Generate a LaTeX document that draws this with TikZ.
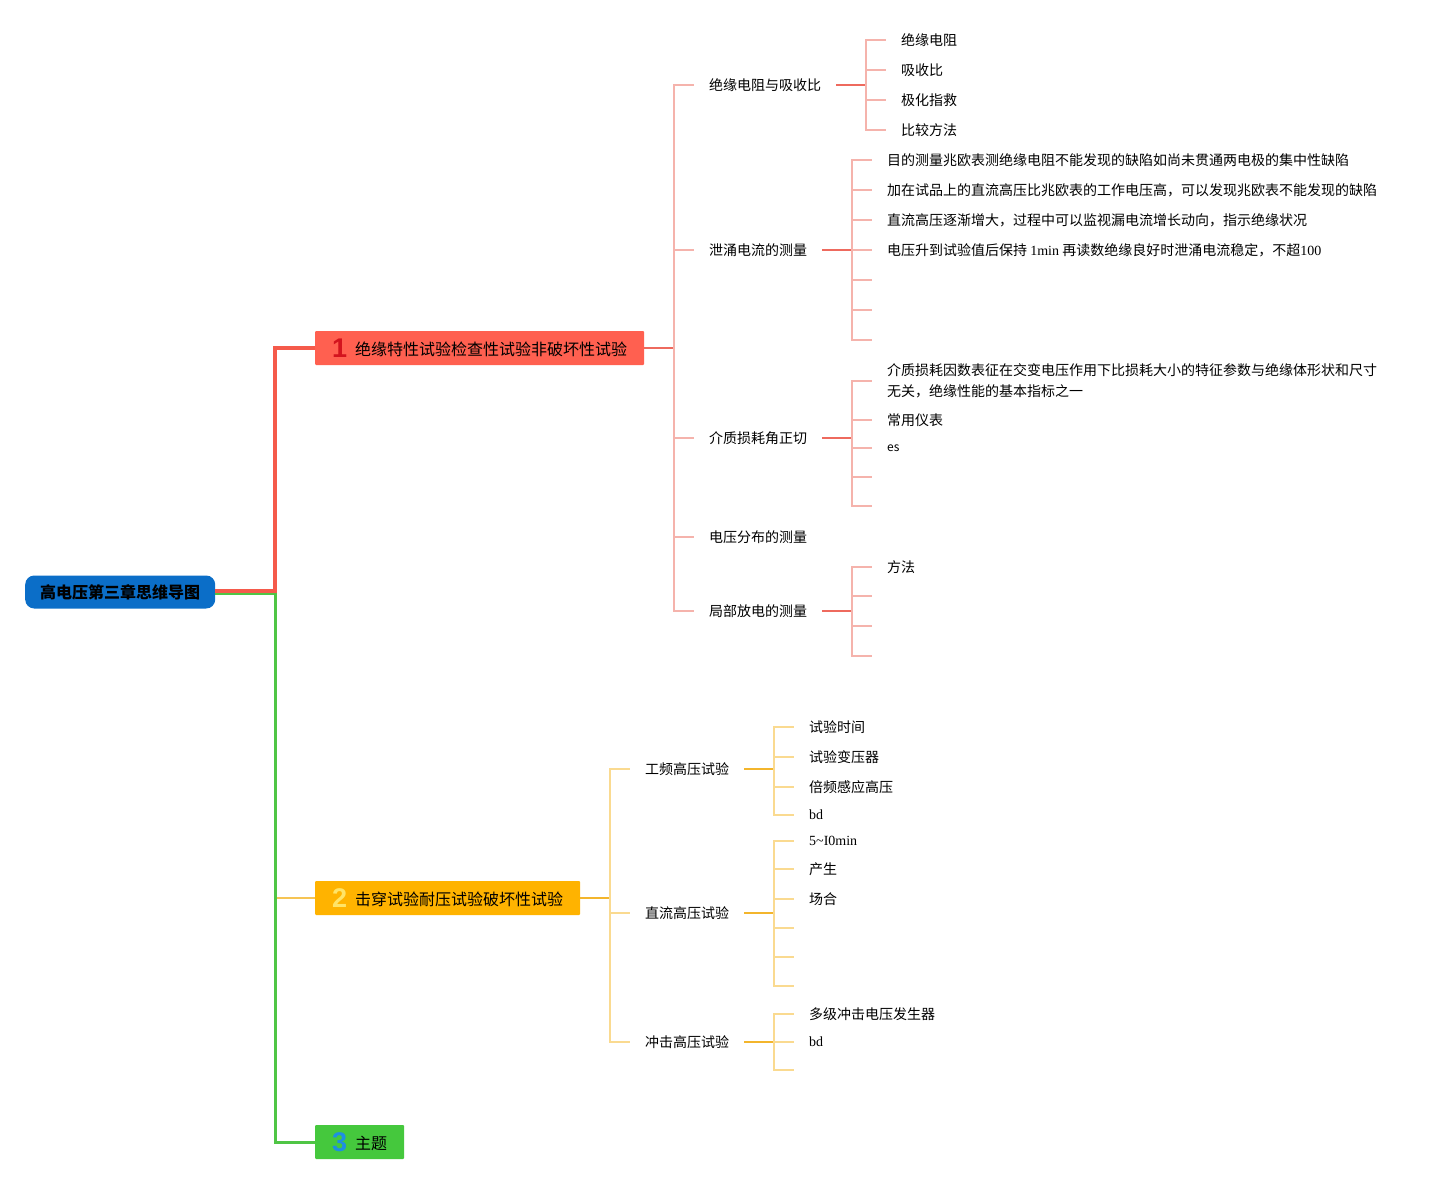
\documentclass[tikz,border=0pt]{standalone}
\usepackage{fontspec}
\setmainfont{Noto Sans CJK SC}
\newfontfamily\latserif{Liberation Serif}
\newfontfamily\numfont{Liberation Sans}
\usetikzlibrary{positioning,calc}

\definecolor{rootblue}{HTML}{0B6EC8}
\definecolor{boxred}{HTML}{FF6050}
\definecolor{boxyellow}{HTML}{FFB300}
\definecolor{boxgreen}{HTML}{45C83D}
\definecolor{numred}{HTML}{D3141E}
\definecolor{numyellow}{HTML}{FFE468}
\definecolor{numblue}{HTML}{1E8FE2}
\definecolor{trunkred}{HTML}{F55A4B}
\definecolor{trunkgreen}{HTML}{4FC545}
\definecolor{linered}{HTML}{EE6A5E}
\definecolor{linepink}{HTML}{F5B3AC}
\definecolor{lineyellow}{HTML}{F3B52C}
\definecolor{paleyellow}{HTML}{FADA90}

\newcommand{\lat}[1]{{\latserif #1}}
\newcommand{\bignum}[2]{\raisebox{-1.5pt}{\numfont\bfseries\fontsize{27}{27}\selectfont\color{#1}#2}\hspace{8pt}}

\begin{document}
\begin{tikzpicture}[
    x=1pt, y=-1pt,
    every node/.style={font=\fontsize{14}{21}\selectfont},
    rootbox/.style={fill=rootblue, rounded corners=9pt, minimum width=190pt, minimum height=33pt, inner sep=0pt, anchor=west, font=\fontsize{16}{16}\selectfont\bfseries},
    mainbox/.style={fill=#1, rounded corners=1pt, minimum height=34pt, inner sep=0pt, anchor=west, font=\fontsize{16}{16}\selectfont},
    topic/.style={anchor=west, inner xsep=15pt, inner ysep=0pt},
    leaf/.style={anchor=west, inner xsep=15pt, inner ysep=0pt, align=left},
    conn1/.style={draw=linered, line width=2pt},
    twig1/.style={draw=linepink, line width=2pt},
    conn2/.style={draw=lineyellow, line width=2pt},
    twig2/.style={draw=paleyellow, line width=2pt}
]
\useasboundingbox (0,0) rectangle (1447,1185);

% Root and the three main branches
\node[rootbox] (root) at (25,592) {高电压第三章思维导图};
\node[mainbox=boxred, minimum width=329pt] (b1) at (315,348) {\bignum{numred}{1}绝缘特性试验检查性试验非破坏性试验};
\node[mainbox=boxyellow, minimum width=265pt] (b2) at (315,898) {\bignum{numyellow}{2}击穿试验耐压试验破坏性试验};
\node[mainbox=boxgreen, minimum width=89pt] (b3) at (315,1142) {\bignum{numblue}{3}主题};

\draw[draw=paleyellow!40!lineyellow, line width=2pt] ([xshift=-40pt]b2.west) -- (b2.west);
\draw[draw=trunkgreen, line width=3pt] ([yshift=-1.5pt]root.east) -| ([xshift=-40pt]b3.west) -- (b3.west);
\draw[draw=trunkred, line width=4pt] ([yshift=1.5pt]root.east) -| ([xshift=-40pt]b1.west) -- (b1.west);

% Branch 1: non-destructive tests
\draw[conn1] (b1.east) -- ++(30,0) coordinate (b1s);
\node[topic] (c1) at (694,85) {绝缘电阻与吸收比};
\node[topic] (c2) at (694,250) {泄涌电流的测量};
\node[topic] (c3) at (694,438) {介质损耗角正切};
\node[topic] (c4) at (694,537) {电压分布的测量};
\node[topic] (c5) at (694,611) {局部放电的测量};
\foreach \c in {c1,c2,c3,c4,c5}
    \draw[twig1] (b1s) |- (\c.west);

% insulation resistance
\draw[conn1] (c1.east) -- ++(30,0) coordinate (c1s);
\node[leaf] (c1a) at (886,40) {绝缘电阻};
\node[leaf] (c1b) at (886,70) {吸收比};
\node[leaf] (c1c) at (886,100) {极化指救};
\node[leaf] (c1d) at (886,130) {比较方法};
\foreach \c in {c1a,c1b,c1c,c1d}
    \draw[twig1] (c1s) |- (\c.west);

% leakage current
\draw[conn1] (c2.east) -- ++(30,0) coordinate (c2s);
\node[leaf] (c2a) at (872,160) {目的测量兆欧表测绝缘电阻不能发现的缺陷如尚未贯通两电极的集中性缺陷};
\node[leaf] (c2b) at (872,190) {加在试品上的直流高压比兆欧表的工作电压高，可以发现兆欧表不能发现的缺陷};
\node[leaf] (c2c) at (872,220) {直流高压逐渐增大，过程中可以监视漏电流增长动向，指示绝缘状况};
\node[leaf] (c2d) at (872,250) {电压升到试验值后保持 \lat{1min} 再读数绝缘良好时泄涌电流稳定，不超\lat{100}};
\coordinate (c2e) at (872,280);
\coordinate (c2f) at (872,310);
\coordinate (c2g) at (872,340);
\foreach \c in {c2a.west,c2b.west,c2c.west,c2d.west,c2e,c2f,c2g}
    \draw[twig1] (c2s) |- (\c);

% dielectric loss
\draw[conn1] (c3.east) -- ++(30,0) coordinate (c3s);
\node[leaf] (c3a) at (872,380.5) {介质损耗因数表征在交变电压作用下比损耗大小的特征参数与绝缘体形状和尺寸\\无关，绝缘性能的基本指标之一};
\node[leaf] (c3b) at (872,420) {常用仪表};
\node[leaf, font=\fontsize{12}{12}\selectfont] (c3c) at (872,448) {es};
\coordinate (c3d) at (872,477);
\coordinate (c3e) at (872,506);
\foreach \c in {c3a.west,c3b.west,c3c.west,c3d,c3e}
    \draw[twig1] (c3s) |- (\c);

% partial discharge
\draw[conn1] (c5.east) -- ++(30,0) coordinate (c5s);
\node[leaf] (c5a) at (872,567) {方法};
\coordinate (c5b) at (872,596);
\coordinate (c5c) at (872,626);
\coordinate (c5d) at (872,656);
\foreach \c in {c5a.west,c5b,c5c,c5d}
    \draw[twig1] (c5s) |- (\c);

% Branch 2: destructive tests
\draw[conn2] (b2.east) -- ++(30,0) coordinate (b2s);
\node[topic] (d1) at (630,769) {工频高压试验};
\node[topic] (d2) at (630,913) {直流高压试验};
\node[topic] (d3) at (630,1042) {冲击高压试验};
\foreach \c in {d1,d2,d3}
    \draw[twig2] (b2s) |- (\c.west);

% power frequency
\draw[conn2] (d1.east) -- ++(30,0) coordinate (d1s);
\node[leaf] (d1a) at (794,727) {试验时间};
\node[leaf] (d1b) at (794,757) {试验变压器};
\node[leaf] (d1c) at (794,787) {倍频感应高压};
\node[leaf] (d1d) at (794,815) {\lat{bd}};
\foreach \c in {d1a,d1b,d1c,d1d}
    \draw[twig2] (d1s) |- (\c.west);

% DC
\draw[conn2] (d2.east) -- ++(30,0) coordinate (d2s);
\node[leaf] (d2a) at (794,841) {\lat{5\textasciitilde I0min}};
\node[leaf] (d2b) at (794,869) {产生};
\node[leaf] (d2c) at (794,899) {场合};
\coordinate (d2d) at (794,928);
\coordinate (d2e) at (794,957);
\coordinate (d2f) at (794,986);
\foreach \c in {d2a.west,d2b.west,d2c.west,d2d,d2e,d2f}
    \draw[twig2] (d2s) |- (\c);

% impulse
\draw[conn2] (d3.east) -- ++(30,0) coordinate (d3s);
\node[leaf] (d3a) at (794,1014) {多级冲击电压发生器};
\node[leaf] (d3b) at (794,1042) {\lat{bd}};
\coordinate (d3c) at (794,1070);
\foreach \c in {d3a.west,d3b.west,d3c}
    \draw[twig2] (d3s) |- (\c);

\end{tikzpicture}
\end{document}
